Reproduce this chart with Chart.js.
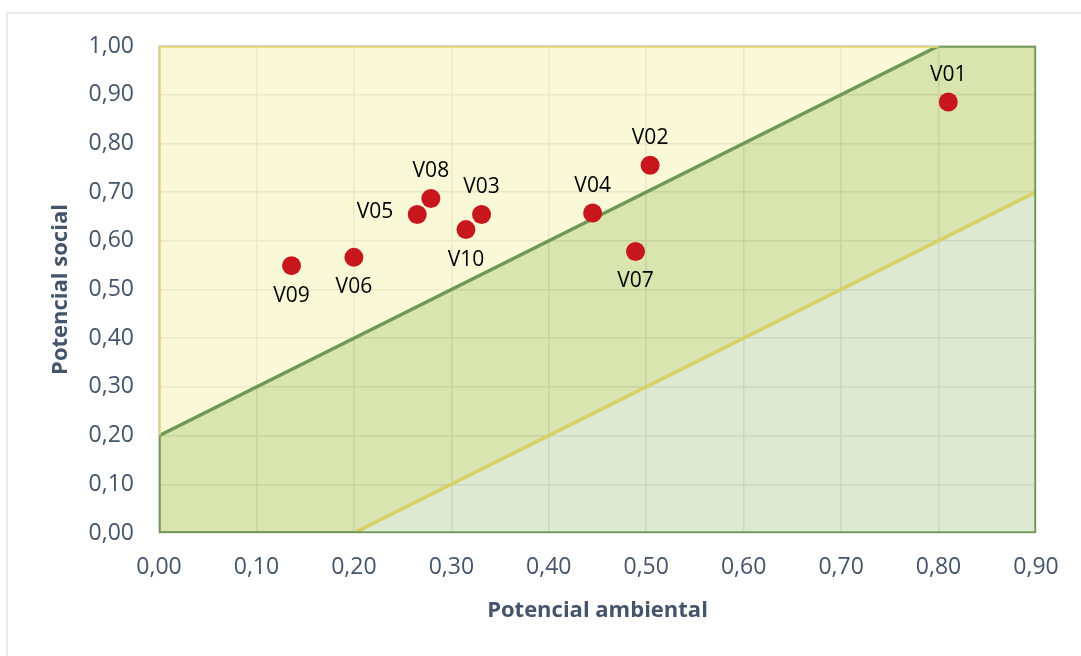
<!DOCTYPE html>
<html>
<head>
<meta charset="utf-8">
<script src="https://cdn.jsdelivr.net/npm/chart.js@4.4.1/dist/chart.umd.min.js"></script>
<style>
  html, body { margin: 0; padding: 0; background: #ffffff; }
  #wrap { position: relative; width: 1081px; height: 656px; overflow: hidden; }
  #frame { position: absolute; left: 6px; top: 12px; width: 1300px; height: 900px;
           border-left: 2px solid #e7ebf0; border-top: 2px solid #e7ebf0; pointer-events: none; }
  canvas { position: absolute; left: 0; top: 0; }
</style>
</head>
<body>
<div id="wrap">
  <div id="frame"></div>
  <canvas id="c" width="1081" height="656"></canvas>
</div>
<script>
// ---- data ----
const categories = ['V01','V02','V03','V04','V05','V06','V07','V08','V09','V10'];
const potencialAmbiental = [0.810, 0.504, 0.331, 0.445, 0.265, 0.200, 0.489, 0.279, 0.136, 0.315];
const potencialSocial    = [0.885, 0.755, 0.654, 0.657, 0.654, 0.566, 0.578, 0.687, 0.549, 0.623];
const labelSide = ['above','above','above','above','left','below','below','above','below','below'];

const xTickLabels = ['0,00','0,10','0,20','0,30','0,40','0,50','0,60','0,70','0,80','0,90'];
const yTickLabels = ['0,00','0,10','0,20','0,30','0,40','0,50','0,60','0,70','0,80','0,90','1,00'];

// zone boundaries
const upperLineX = [0.0, 0.8, 0.9];
const upperLineY = [0.2, 1.0, 1.0];
const lowerLineX = [0.0, 0.2, 0.9];
const lowerLineY = [0.0, 0.0, 0.7];
const frameX = [0.8, 0.0, 0.0, 0.0, 0.9, 0.9];
const frameY = [1.0, 1.0, 0.2, 0.0, 0.0, 1.0];

// ---- styles ----
const GREEN = '#6f9a55';
const YELLOW = '#e3d66f';
const YELLOW2 = '#d6d163';
const TEXT = '#44546a';
const FONT = "'Open Sans', 'DejaVu Sans', sans-serif";

const pts = (xs, ys) => xs.map((x, i) => ({x: x, y: ys[i]}));
const frameEdges = [YELLOW, YELLOW, GREEN, GREEN, GREEN];
const lowerEdges = [GREEN, YELLOW2];

const labelPlugin = {
  id: 'pointLabels',
  afterDatasetsDraw(chart) {
    const meta = chart.getDatasetMeta(0);
    const ctx = chart.ctx;
    ctx.save();
    ctx.font = "21px " + FONT;
    ctx.fillStyle = '#000000';
    meta.data.forEach((el, i) => {
      const side = labelSide[i];
      let x = el.x, y = el.y;
      if (side === 'above') { ctx.textAlign = 'center'; ctx.textBaseline = 'middle'; y -= 27; }
      else if (side === 'below') { ctx.textAlign = 'center'; ctx.textBaseline = 'middle'; y += 30; }
      else { ctx.textAlign = 'right'; ctx.textBaseline = 'middle'; x -= 24; y -= 2; }
      ctx.fillText(categories[i], x, y);
    });
    ctx.restore();
  }
};

const common = { showLine: true, pointRadius: 0, pointHoverRadius: 0, tension: 0 };

new Chart(document.getElementById('c'), {
  type: 'scatter',
  data: {
    datasets: [
      { // 0: points
        label: 'Vías',
        data: pts(potencialAmbiental, potencialSocial),
        backgroundColor: '#c8161d',
        borderColor: '#c8161d',
        borderWidth: 0,
        pointRadius: 9.5,
        pointHoverRadius: 9.5,
        order: 0
      },
      Object.assign({ // 1: frame border
        data: pts(frameX, frameY), fill: false, borderWidth: 3.5, borderColor: GREEN,
        segment: { borderColor: ctx => frameEdges[ctx.p0DataIndex] }, order: 1
      }, common),
      Object.assign({ // 2: upper green line, yellow zone above
        data: pts(upperLineX, upperLineY), fill: 'end', backgroundColor: 'rgba(247,245,188,0.6)',
        borderWidth: 3.5, borderColor: GREEN, order: 2
      }, common),
      Object.assign({ // 3: band between upper and lower lines
        data: pts(upperLineX, upperLineY), fill: 4, backgroundColor: 'rgba(192,210,122,0.6)',
        borderWidth: 0, borderColor: 'rgba(0,0,0,0)', order: 4
      }, common),
      Object.assign({ // 4: lower yellow line, blue-green zone below
        data: pts(lowerLineX, lowerLineY), fill: 'start', backgroundColor: 'rgba(198,218,180,0.6)',
        borderWidth: 3.5, borderColor: YELLOW2,
        segment: { borderColor: ctx => lowerEdges[ctx.p0DataIndex] }, order: 3
      }, common)
    ]
  },
  options: {
    responsive: false,
    animation: false,
    layout: { padding: { top: 46, right: 45, bottom: 10, left: 10 } },
    plugins: { legend: { display: false }, tooltip: { enabled: false } },
    scales: {
      x: {
        type: 'linear', min: 0, max: 0.9,
        afterFit: s => { s.height = 113; },
        border: { display: false },
        grid: { color: '#d4d4d6', lineWidth: 1.5, drawTicks: false },
        ticks: { stepSize: 0.1, padding: 21, color: TEXT, font: { family: FONT, size: 23 },
                 callback: v => xTickLabels[Math.round(v * 10)] },
        title: { display: true, text: 'Potencial ambiental', color: TEXT,
                 font: { family: FONT, size: 22, weight: 'bold' }, padding: { top: 0, bottom: 22 } }
      },
      y: {
        type: 'linear', min: 0, max: 1,
        afterFit: s => { s.width = 149; },
        border: { display: false },
        grid: { color: '#d4d4d6', lineWidth: 1.5, drawTicks: false },
        ticks: { stepSize: 0.1, padding: 25, color: TEXT, font: { family: FONT, size: 23 },
                 callback: v => yTickLabels[Math.round(v * 10)] },
        title: { display: true, text: 'Potencial social', color: TEXT,
                 font: { family: FONT, size: 22, weight: 'bold' }, padding: { top: 38, bottom: 0 } }
      }
    }
  },
  plugins: [labelPlugin]
});
</script>
</body>
</html>
